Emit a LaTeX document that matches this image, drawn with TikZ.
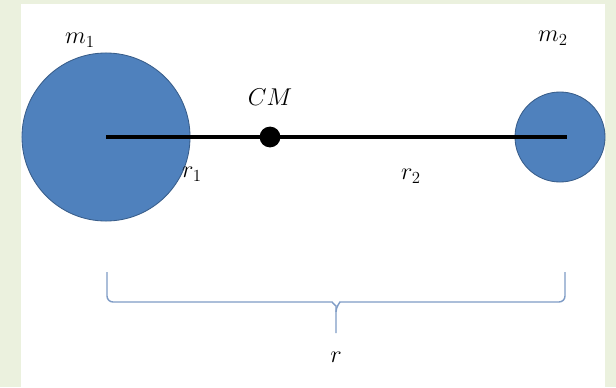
\documentclass[tikz,border=0pt]{standalone}
\usepackage{amsmath,amssymb}
\usepackage{tikz}

\definecolor{slidegreen}{HTML}{EBF1DE}
\definecolor{massblue}{HTML}{4F81BD}
\definecolor{massedge}{HTML}{385D8A}
\definecolor{bracecol}{HTML}{7F9CC6}

\begin{document}
\begin{tikzpicture}[x=0.025cm, y=-0.025cm, thick]
      % Background and page
      \fill[slidegreen] (0,0) rectangle (616,387);
      \fill[white] (21,4) rectangle (605,387);
      \useasboundingbox (0,0) rectangle (616,387);

      % Define coordinates
      \coordinate (left_mass) at (106,137);
      \coordinate (right_mass) at (560,137);
      \coordinate (cm_point) at (270,137);
      \coordinate (brace_left) at (107,272);
      \coordinate (brace_right) at (565,272);
      \coordinate (brace_mid) at (336,302);
      \coordinate (brace_tip) at (336,333);

      % Draw the two masses
      \node[draw=massedge, fill=massblue, circle, line width=0.6pt, minimum size=4.2cm] (m1ball) at (left_mass) {};
      \node[draw=massedge, fill=massblue, circle, line width=0.6pt, minimum size=2.25cm] (m2ball) at (right_mass) {};

      % Draw the rod and the centre of mass
      \draw[line width=0.1cm] (m1ball.center) -- ([xshift=5]m2ball.center);
      \node[fill=black, circle, inner sep=0pt, minimum size=0.52cm] (cm) at (cm_point) {};

      % Labels
      \node at (80,40) {\LARGE $m_1$};
      \node at (553,38) {\LARGE $m_2$};
      \node at (270,97) {\LARGE $CM$};
      \node at (192,174) {\LARGE $r_1$};
      \node at (411,176) {\LARGE $r_2$};

      % Draw the brace under the rod
      \draw[bracecol, line width=1pt, rounded corners=0.15cm] (brace_left) |- ([xshift=-7]brace_mid) to[out=0, in=90] ([yshift=-7]brace_mid) -- (brace_tip);
      \draw[bracecol, line width=1pt, rounded corners=0.15cm] (brace_right) |- ([xshift=7]brace_mid) to[out=180, in=90] ([yshift=-7]brace_mid);
      \node at (336,357) {\LARGE $r$};
    \end{tikzpicture}
\end{document}
